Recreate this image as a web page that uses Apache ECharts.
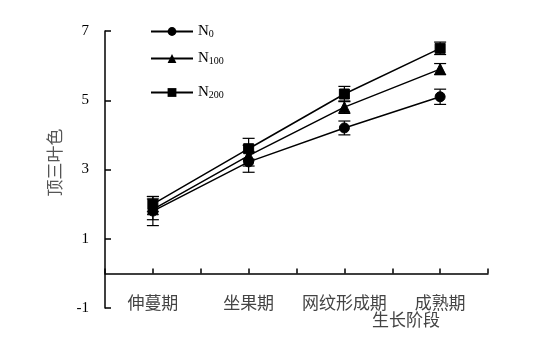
<!DOCTYPE html>
<html><head><meta charset="utf-8">
<script src="https://cdn.jsdelivr.net/npm/echarts@6/dist/echarts.min.js"></script>
<style>html,body{margin:0;padding:0;background:#fff}#c{width:533px;height:355px}</style>
</head><body><div id="c"></div>
<script>
const categories = ['伸蔓期','坐果期','网纹形成期','成熟期'];
const seriesNames = ['N0','N100','N200'];
const n0 = [1.8, 3.22, 4.2, 5.1];
const n100 = [1.85, 3.4, 4.8, 5.9];
const n200 = [2.0, 3.6, 5.18, 6.5];
const n0Err = [0.42, 0.3, 0.2, 0.22];
const n100Err = [0.3, 0.3, 0.18, 0.16];
const n200Err = [0.22, 0.3, 0.22, 0.18];
const yTicks = [-1, 1, 3, 5, 7];

const values = [n0, n100, n200];
const errs = [n0Err, n100Err, n200Err];
const symbols = ['circle', 'triangle', 'rect'];
const symSizes = [10, 11, 10];
const xPos = i => 2 * i + 1;

const chart = echarts.init(document.getElementById('c'));
const serif = 'Liberation Serif';
const cjk = 'Noto Sans CJK SC';

const series = [];
values.forEach((vals, s) => {
  series.push({
    type: 'custom',
    name: seriesNames[s] + '_err',
    renderItem: function (params, api) {
      const x = api.value(0), lo = api.value(1), hi = api.value(2);
      const pLo = api.coord([x, lo]), pHi = api.coord([x, hi]);
      const w = 6;
      const st = { stroke: '#000', lineWidth: 1.2 };
      return { type: 'group', children: [
        { type: 'line', shape: { x1: pLo[0], y1: pLo[1], x2: pHi[0], y2: pHi[1] }, style: st },
        { type: 'line', shape: { x1: pLo[0] - w, y1: pLo[1], x2: pLo[0] + w, y2: pLo[1] }, style: st },
        { type: 'line', shape: { x1: pHi[0] - w, y1: pHi[1], x2: pHi[0] + w, y2: pHi[1] }, style: st }
      ]};
    },
    data: vals.map((v, i) => [xPos(i), v - errs[s][i], v + errs[s][i]]),
    z: 1
  });
});
values.forEach((vals, s) => {
  series.push({
    type: 'line',
    name: seriesNames[s],
    data: vals.map((v, i) => [xPos(i), v]),
    symbol: symbols[s],
    symbolSize: symSizes[s],
    showAllSymbol: true,
    lineStyle: { color: '#000', width: 1.5 },
    itemStyle: { color: '#000', borderColor: '#000' },
    z: 3
  });
});

const legendTops = [19, 46, 80];
const legends = seriesNames.map((n, s) => ({
  data: [n],
  left: 145,
  top: legendTops[s],
  itemWidth: 42,
  itemHeight: 11,
  formatter: function (name) {
    return '{a|N}{b|' + name.slice(1) + '}';
  },
  textStyle: {
    rich: {
      a: { fontFamily: serif, fontSize: 15, color: '#000' },
      b: { fontFamily: serif, fontSize: 10, color: '#000', verticalAlign: 'bottom', padding: [6, 0, 0, 0] }
    }
  }
}));

chart.setOption({
  animation: false,
  backgroundColor: '#fff',
  grid: { left: 105, right: 45, top: 31, bottom: 47 },
  legend: legends,
  xAxis: {
    type: 'value', min: 0, max: 8, interval: 1,
    axisLine: { onZero: true, lineStyle: { color: '#000', width: 1.5 } },
    axisTick: { inside: true, length: 5, lineStyle: { color: '#000', width: 1.5 } },
    splitLine: { show: false },
    axisLabel: {
      margin: -14,
      fontFamily: cjk, fontSize: 17, color: '#444',
      formatter: v => (v % 2 === 1 ? categories[(v - 1) / 2] : '')
    }
  },
  yAxis: {
    type: 'value', min: -1, max: 7, interval: 2,
    axisLine: { onZero: false, lineStyle: { color: '#000', width: 1.5 } },
    axisTick: { inside: true, length: 6, lineStyle: { color: '#000', width: 1.5 } },
    splitLine: { show: false },
    axisLabel: { margin: 16, fontFamily: serif, fontSize: 15, color: '#000',
      formatter: v => (yTicks.indexOf(v) >= 0 ? String(v) : '') },
    name: '顶三叶色', nameLocation: 'middle', nameGap: 42, nameRotate: 90,
    nameTextStyle: { fontFamily: cjk, fontSize: 17, color: '#555', padding: [0, 0, 0, 14] }
  },
  graphic: [{
    type: 'text', left: 372, top: 311,
    style: { text: '生长阶段', font: '17px "Noto Sans CJK SC"', fill: '#444' }
  }],
  series: series
});
</script></body></html>
